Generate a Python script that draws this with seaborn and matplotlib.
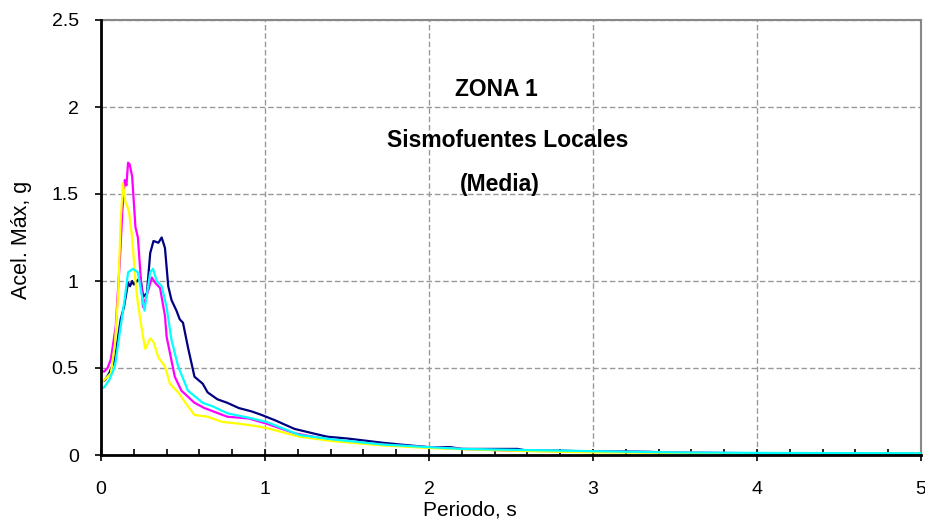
import matplotlib
matplotlib.use("Agg")
import matplotlib.pyplot as plt
from matplotlib.ticker import MultipleLocator
import numpy as np
import pandas as pd
import seaborn as sns

# Spectral acceleration (g) vs period (s) for four records
t_navy = [0.0, 0.025, 0.05, 0.085, 0.10, 0.12, 0.14, 0.165, 0.177, 0.19, 0.20, 0.22, 0.24,
          0.257, 0.28, 0.30, 0.32, 0.35, 0.37, 0.39, 0.41, 0.43, 0.46, 0.48, 0.50, 0.53,
          0.57, 0.62, 0.65, 0.71, 0.77, 0.84, 0.92, 0.98, 1.06, 1.18, 1.29, 1.38, 1.50,
          1.59, 1.72, 1.85, 2.0, 2.13, 2.2, 2.4, 2.54, 2.6, 2.8, 3.0, 3.2, 3.35, 3.5,
          4.0, 4.5, 5.0]
sa_navy = [0.42, 0.43, 0.47, 0.55, 0.65, 0.78, 0.85, 0.99, 0.97, 1.00, 0.98, 1.00, 1.02,
           0.91, 0.93, 1.16, 1.23, 1.22, 1.25, 1.19, 0.97, 0.89, 0.83, 0.78, 0.76, 0.62,
           0.45, 0.41, 0.36, 0.32, 0.30, 0.27, 0.25, 0.23, 0.20, 0.15, 0.125, 0.105, 0.095,
           0.085, 0.07, 0.058, 0.045, 0.045, 0.035, 0.035, 0.035, 0.025, 0.025, 0.02, 0.02,
           0.018, 0.012, 0.01, 0.01, 0.01]

t_magenta = [0.0, 0.02, 0.04, 0.06, 0.09, 0.115, 0.13, 0.145, 0.155, 0.165, 0.175, 0.19,
             0.21, 0.225, 0.24, 0.256, 0.28, 0.31, 0.33, 0.36, 0.39, 0.40, 0.45, 0.49,
             0.57, 0.63, 0.77, 0.90, 1.01, 1.18, 1.38, 1.59, 1.79, 2.0, 2.2, 2.5, 3.0,
             3.5, 4.0, 5.0]
sa_magenta = [0.48, 0.48, 0.50, 0.55, 0.74, 1.12, 1.40, 1.58, 1.55, 1.68, 1.67, 1.60,
              1.31, 1.25, 1.05, 0.85, 0.92, 1.02, 0.99, 0.96, 0.80, 0.68, 0.45, 0.37,
              0.30, 0.27, 0.22, 0.21, 0.18, 0.125, 0.09, 0.07, 0.055, 0.045, 0.035, 0.025,
              0.02, 0.015, 0.01, 0.01]

t_yellow = [0.0, 0.02, 0.06, 0.085, 0.105, 0.12, 0.134, 0.15, 0.16, 0.17, 0.19, 0.21,
            0.225, 0.256, 0.27, 0.30, 0.32, 0.35, 0.39, 0.42, 0.47, 0.53, 0.57, 0.65,
            0.74, 0.84, 0.92, 1.01, 1.21, 1.41, 1.72, 2.0, 2.3, 2.7, 3.0, 3.5, 4.0, 5.0]
sa_yellow = [0.42, 0.43, 0.47, 0.64, 0.93, 1.35, 1.56, 1.45, 1.43, 1.40, 1.25, 1.00,
             0.87, 0.68, 0.61, 0.67, 0.65, 0.56, 0.51, 0.41, 0.36, 0.28, 0.23, 0.22,
             0.19, 0.18, 0.17, 0.155, 0.105, 0.08, 0.055, 0.04, 0.03, 0.02, 0.015, 0.012,
             0.01, 0.01]

t_cyan = [0.0, 0.02, 0.05, 0.085, 0.12, 0.145, 0.165, 0.18, 0.195, 0.225, 0.25, 0.265,
          0.30, 0.317, 0.34, 0.37, 0.40, 0.43, 0.47, 0.53, 0.62, 0.68, 0.77, 0.92, 1.01,
          1.21, 1.41, 1.72, 2.0, 2.2, 2.5, 3.0, 3.5, 4.0, 5.0]
sa_cyan = [0.38, 0.39, 0.43, 0.51, 0.74, 0.90, 1.05, 1.06, 1.07, 1.05, 0.91, 0.83,
           1.05, 1.07, 1.00, 0.97, 0.85, 0.66, 0.51, 0.37, 0.30, 0.28, 0.24, 0.21, 0.19,
           0.115, 0.09, 0.06, 0.045, 0.035, 0.03, 0.022, 0.015, 0.012, 0.01]

series_names = ["S1", "S2", "S3", "S4"]
series_colors = ["#000080", "#FF00FF", "#FFFF00", "#00FFFF"]

frames = []
for name, t, sa in zip(series_names,
                       [t_navy, t_magenta, t_yellow, t_cyan],
                       [sa_navy, sa_magenta, sa_yellow, sa_cyan]):
    frames.append(pd.DataFrame({"T": t, "Sa": sa, "serie": name}))
df = pd.concat(frames, ignore_index=True)

sns.set_theme(style="white")
plt.rcParams["font.family"] = ["Liberation Sans", "DejaVu Sans"]

fig = plt.figure(figsize=(9.25, 5.2), dpi=100)
ax = fig.add_axes([101 / 925, 65 / 520, 820 / 925, 435 / 520])

sns.lineplot(data=df, x="T", y="Sa", hue="serie", palette=series_colors,
             hue_order=series_names, estimator=None, sort=False,
             linewidth=1.6, legend=False, ax=ax, zorder=3)

ax.set_xlim(0, 5)
ax.set_ylim(0, 2.5)
ax.xaxis.set_major_locator(MultipleLocator(1))
ax.xaxis.set_minor_locator(MultipleLocator(0.2))
ax.yaxis.set_major_locator(MultipleLocator(0.5))

ax.set_xticks([0, 1, 2, 3, 4, 5])
ax.set_xticklabels(["0", "1", "2", "3", "4", "5"])
ax.set_yticks([0, 0.5, 1.0, 1.5, 2.0, 2.5])
ax.set_yticklabels(["0", "0.5", "1", "1.5", "2", "2.5"])

ax.tick_params(axis="x", which="major", direction="inout", length=8, width=1.2,
               color="black", labelsize=14, pad=15, bottom=True)
ax.tick_params(axis="x", which="minor", direction="in", length=4, width=1.2,
               color="black", bottom=True)
ax.tick_params(axis="y", which="major", direction="out", length=4, width=1.2,
               color="black", labelsize=14, pad=12, left=True)
for lab in ax.get_xticklabels() + ax.get_yticklabels():
    lab.set_color("black")

ax.grid(True, which="major", axis="both", color="#999999", linestyle=(0, (4, 2)),
        linewidth=1.0, zorder=0)
ax.set_axisbelow(True)

for side in ["left", "bottom"]:
    ax.spines[side].set_color("black")
    ax.spines[side].set_linewidth(2.0)
    ax.spines[side].set_zorder(4)
for side in ["top", "right"]:
    ax.spines[side].set_color("#888888")
    ax.spines[side].set_linewidth(1.5)

ax.set_xlabel("Periodo, s", fontsize=15, color="black")
ax.set_ylabel("Acel. Máx, g", fontsize=15.5, color="black")
ax.xaxis.set_label_coords((470 - 101) / 820, (455 - 510) / 435)
ax.xaxis.label.set_va("center")
ax.yaxis.set_label_coords((22 - 101) / 820, (455 - 240) / 435)
ax.yaxis.label.set_va("center")

title_lines = ["ZONA 1", "Sismofuentes Locales", "(Media)"]
title_x = [2.41, 2.48, 2.43]
title_y = [2.10, 1.81, 1.555]
for txt, xv, yv in zip(title_lines, title_x, title_y):
    ax.text(xv, yv, txt, ha="center", va="center", fontsize=16.5,
            fontweight="bold", color="black", zorder=5)

fig.savefig("out.png", dpi=100, facecolor="white")
